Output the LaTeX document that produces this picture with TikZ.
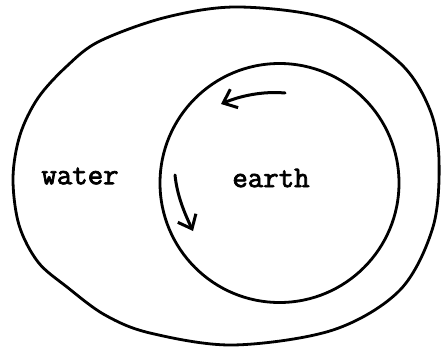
\documentclass[tikz,border=0pt]{standalone}
\usepackage{fontspec}
\newfontfamily\twfont{Latin Modern Mono}[FakeBold=2.5]
\usetikzlibrary{arrows.meta}
\begin{document}
\begin{tikzpicture}[x=1pt,y=-1pt,
  ink/.style={line width=2.8pt,line cap=round,line join=round},
  arr/.style={line width=3pt,line cap=round,-{Straight Barb[length=12pt,width=20pt,line width=3pt]}},
  lbl/.style={font=\twfont\fontsize{30}{30}\selectfont,inner sep=0pt}]
\useasboundingbox (0,0) rectangle (441,348);
\draw[ink] plot[smooth cycle,tension=0.55] coordinates {
  (13,178) (20,135) (38,98) (67,66) (100,41) (167,17) (240,7) (333,20) (400,63) (430,110)
  (439,160) (433,227) (400,290) (333,330) (233,345) (150,333) (105,315) (67,287) (38,262) (19,225)};
\node[circle,draw,line width=2.8pt,minimum size=239pt,inner sep=0pt] (earthc) at (279.5,183) {};
\node[lbl] (water) at (80,176) {water};
\node[lbl] (earth) at (271,178) {earth};
\coordinate (a1s) at (285,93);
\coordinate (a1e) at (221,104);
\coordinate (a2s) at (175,175);
\coordinate (a2e) at (193,231);
\draw[arr] (a1s) .. controls (262,91) and (240,96) .. (a1e);
\draw[arr] (a2s) .. controls (177,195) and (184,212) .. (a2e);
\end{tikzpicture}
\end{document}
